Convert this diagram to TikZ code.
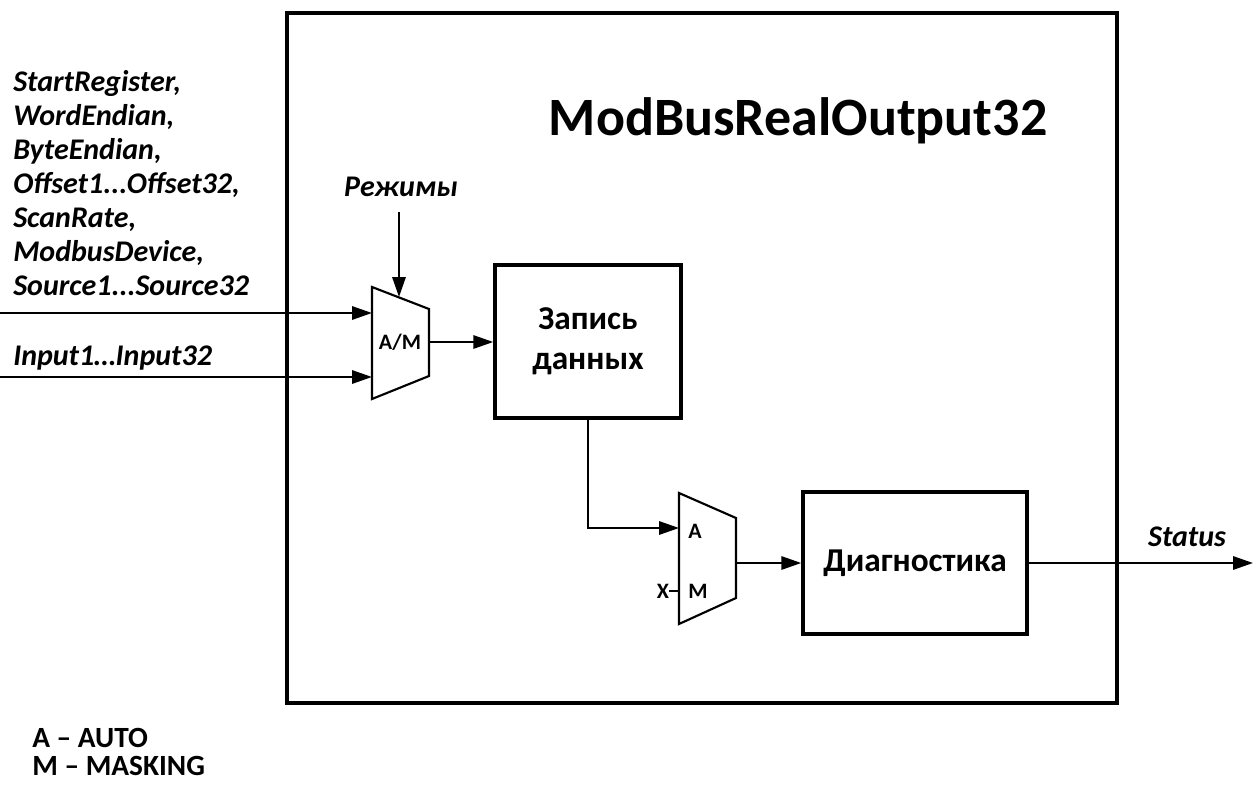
\documentclass[tikz,border=0pt]{standalone}
\usepackage{fontspec}
\setmainfont{Carlito}
\usetikzlibrary{arrows.meta}
\begin{document}
\begin{tikzpicture}[x=0.75pt,y=-0.75pt,
  conn/.style={line width=1.6pt,-{Triangle[length=15pt,width=10pt]}},
  wire/.style={line width=1.6pt},
  muxshape/.style={line width=1.6pt,line join=miter},
  blk/.style={draw,line width=2.6pt,inner sep=0pt,align=center,
    font=\bfseries\fontsize{25}{30}\selectfont},
  sig/.style={font=\bfseries\itshape\fontsize{22.5}{25.5}\selectfont,inner sep=0pt,align=left},
  plain/.style={font=\bfseries\fontsize{22}{21}\selectfont,inner sep=0pt},
  small/.style={font=\bfseries\fontsize{16.5}{18}\selectfont,inner sep=0pt},
]
\useasboundingbox (0,0) rectangle (1253,785);

% main block
\node[draw,line width=3pt,minimum width=622.5pt,minimum height=517.5pt,inner sep=0pt] (main) at (702,358) {};
\node[font=\bfseries\fontsize{40.5}{48}\selectfont,inner sep=0pt,anchor=base] (title) at (798,135) {ModBusRealOutput32};

% left signal labels
\node[sig,anchor=north west] (params) at (13,70) {StartRegister,\\WordEndian,\\ByteEndian,\\Offset1...Offset32,\\ScanRate,\\ModbusDevice,\\Source1...Source32};
\node[sig,anchor=base west] (inputs) at (13,365) {Input1…Input32};

% mux 1
\coordinate (m1a) at (372,287);
\coordinate (m1b) at (429,309);
\coordinate (m1c) at (429,376);
\coordinate (m1d) at (372,399);
\draw[muxshape] (m1a) -- (m1b) -- (m1c) -- (m1d) -- cycle;
\node[small] (m1lbl) at (400,342) {A/M};
\node[sig,anchor=base] (rej) at (401,196) {Режимы};
\coordinate (rejs) at (399,212);
\coordinate (reje) at (399,297);
\draw[conn] (rejs) -- (reje);

% inputs
\coordinate (in1s) at (0,313);
\coordinate (in1e) at (372,313);
\coordinate (in2s) at (0,377);
\coordinate (in2e) at (372,377);
\draw[conn] (in1s) -- (in1e);
\draw[conn] (in2s) -- (in2e);

% write block
\node[blk,minimum width=139.5pt,minimum height=114.75pt] (zap) at (588,341.5) {Запись\\данных};
\coordinate (m1out) at (429,342);
\draw[conn] (m1out) -- (m1out -| zap.west);

% mux 2
\coordinate (m2a) at (679,493);
\coordinate (m2b) at (736,518);
\coordinate (m2c) at (736,598);
\coordinate (m2d) at (679,624);
\draw[muxshape] (m2a) -- (m2b) -- (m2c) -- (m2d) -- cycle;
\node[small,anchor=west] (lblA) at (688,531) {A};
\node[small,anchor=west] (lblM) at (688,591) {M};
\node[small] (lblX) at (663,591) {X};
\coordinate (m2ina) at (679,528);
\coordinate (m2inm) at (679,591);
\draw[conn] (zap.south) |- (m2ina);
\draw[wire] (lblX.east) -- (m2inm);

% diagnostics
\node[blk,minimum width=168pt,minimum height=106.5pt] (diag) at (915,563) {Диагностика};
\coordinate (m2out) at (737,563);
\draw[conn] (m2out) -- (diag.west);
\coordinate (stat) at (1253,563);
\draw[conn] (diag.east) -- (stat);
\node[sig,anchor=base] (statlbl) at (1187,546) {Status};

% legend
\node[plain,anchor=base west] (legA) at (32,747) {A – AUTO};
\node[plain,anchor=base west] (legM) at (32,775) {M – MASKING};
\end{tikzpicture}
\end{document}
